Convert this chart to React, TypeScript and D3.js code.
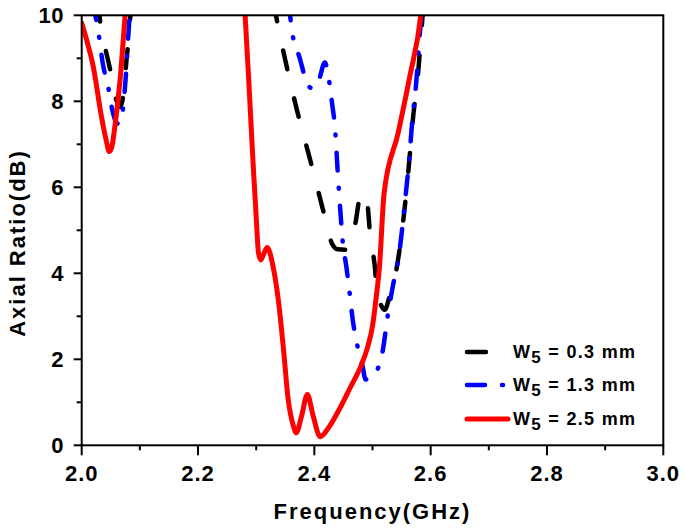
import React from "react";
import * as d3 from "d3";

type P = [number, number];

// W5 = 0.3 mm (black dashed)
const black1: P[] = [[2.029,10.3],[2.031,9.93],[2.04,9.27],[2.049,8.73],[2.057,8.15],[2.066,7.87],[2.072,8.2],[2.077,8.96],[2.082,9.66],[2.085,10.3]];
const black2: P[] = [[2.330,10.3],[2.335,9.93],[2.35,8.96],[2.37,7.8],[2.393,6.63],[2.415,5.47],[2.422,5.1],[2.43,4.7],[2.44,4.56],[2.455,4.55],[2.463,4.75],[2.4716,5.24],[2.477,5.7],[2.484,5.88],[2.49,5.75],[2.496,4.9],[2.504,4.15],[2.508,3.55],[2.515,3.25],[2.521,3.15],[2.53,3.5],[2.54,4.01],[2.553,5.24],[2.562,6.43],[2.569,7.52],[2.579,8.75],[2.585,9.8],[2.588,10.3]];
// W5 = 1.3 mm (blue dash-dot)
const blue1: P[] = [[2.019,10.3],[2.029,9.58],[2.036,8.9],[2.046,8.3],[2.052,7.84],[2.058,7.55],[2.064,7.47],[2.069,7.64],[2.073,8.1],[2.077,8.8],[2.08,9.5],[2.084,10.3]];
const blue2: P[] = [[2.356,10.3],[2.361,9.69],[2.375,9.0],[2.39,8.35],[2.398,8.3],[2.408,8.5],[2.418,8.9],[2.424,8.6],[2.43,8.0],[2.436,7.3],[2.44,6.4],[2.445,5.4],[2.449,4.7],[2.455,4.16],[2.46,3.62],[2.466,2.92],[2.473,2.38],[2.483,1.84],[2.488,1.53],[2.496,1.55],[2.506,1.69],[2.518,2.23],[2.526,3.0],[2.535,3.7],[2.546,4.47],[2.555,5.55],[2.563,6.64],[2.569,7.64],[2.575,8.41],[2.58,9.34],[2.584,10],[2.586,10.3]];
// W5 = 2.5 mm (red solid)
const red1: P[] = [[2.0,9.82],[2.01,9.35],[2.02,8.8],[2.034,7.64],[2.042,7.1],[2.0475,6.83],[2.052,6.95],[2.057,7.41],[2.066,8.5],[2.0745,9.97],[2.077,10.4]];
const red2: P[] = [[2.279,10.4],[2.281,10],[2.289,8.03],[2.295,6.48],[2.3,5.32],[2.304,4.47],[2.308,4.31],[2.313,4.45],[2.319,4.6],[2.329,4.16],[2.338,3.39],[2.347,2.23],[2.355,1.07],[2.364,0.45],[2.369,0.29],[2.378,0.68],[2.388,1.18],[2.398,0.68],[2.41,0.2],[2.425,0.42],[2.443,0.84],[2.462,1.35],[2.48,1.84],[2.492,2.3],[2.5,2.77],[2.506,3.4],[2.512,4.16],[2.52,5.87],[2.544,7.26],[2.564,8.57],[2.583,10],[2.586,10.4]];

const xMajor = [2.0, 2.2, 2.4, 2.6, 2.8, 3.0];
const xMinor = [2.1, 2.3, 2.5, 2.7, 2.9];
const yMajor = [0, 2, 4, 6, 8, 10];
const yMinor = [1, 3, 5, 7, 9];

const legendLabels = ["0.3 mm", "1.3 mm", "2.5 mm"];

const FONT = "'Liberation Sans', Arial, Helvetica, sans-serif";

export default function App() {
  const W = 685, H = 531;
  const L = 81.7, R = 663.3, T = 15.3, B = 445.3;
  const x = d3.scaleLinear().domain([2, 3]).range([L, R]);
  const y = d3.scaleLinear().domain([0, 10]).range([B, T]);
  const line = d3.line<P>().x(d => x(d[0])).y(d => y(d[1])).curve(d3.curveMonotoneX);

  const series = [
    { segs: [black1, black2], color: "#000000", dash: "19,30", w: 4.5 },
    { segs: [blue1, blue2], color: "#0000ff", dash: "18,17,1,17", w: 4.5 },
    { segs: [red1, red2], color: "#ff0000", dash: "", w: 5 },
  ];
  const legendY = [352, 385, 419];

  return (
    <svg width={W} height={H} style={{ position: "absolute", left: 0, top: 0 }} fontFamily={FONT} fontWeight="bold">
      <rect x={0} y={0} width={W} height={H} fill="#fff" />
      <defs>
        <clipPath id="plot">
          <rect x={L} y={T} width={R - L} height={B - T} />
        </clipPath>
      </defs>
      <g clipPath="url(#plot)">
        {series.map((s, i) =>
          s.segs.map((seg, j) => (
            <path key={i + "-" + j} d={line(seg) || ""} fill="none" stroke={s.color} strokeWidth={s.w}
              strokeDasharray={s.dash || undefined} strokeLinecap="round" strokeLinejoin="round" />
          ))
        )}
      </g>
      <rect x={L} y={T} width={R - L} height={B - T} fill="none" stroke="#000" strokeWidth={2} />
      {xMajor.map(v => (
        <g key={"xm" + v}>
          <line x1={x(v)} x2={x(v)} y1={B} y2={B + 10} stroke="#000" strokeWidth={2} />
          <text x={x(v)} y={481} textAnchor="middle" fontSize={22} letterSpacing={1}>{v.toFixed(1)}</text>
        </g>
      ))}
      {xMinor.map(v => (
        <line key={"xn" + v} x1={x(v)} x2={x(v)} y1={B} y2={B + 5} stroke="#000" strokeWidth={2} />
      ))}
      {yMajor.map(v => (
        <g key={"ym" + v}>
          <line x1={L} x2={L - 8} y1={y(v)} y2={y(v)} stroke="#000" strokeWidth={2} />
          <text x={64} y={y(v) + 8} textAnchor="end" fontSize={22} letterSpacing={0.5}>{v}</text>
        </g>
      ))}
      {yMinor.map(v => (
        <line key={"yn" + v} x1={L} x2={L - 5} y1={y(v)} y2={y(v)} stroke="#000" strokeWidth={2} />
      ))}
      <text x={(L + R) / 2} y={519} textAnchor="middle" fontSize={22} letterSpacing={2}>Frequency(GHz)</text>
      <text transform={`translate(25,243) rotate(-90)`} textAnchor="middle" fontSize={22} letterSpacing={2}>Axial Ratio(dB)</text>
      {series.map((s, i) => (
        <g key={"lg" + i}>
          <line x1={467} x2={508} y1={legendY[i]} y2={legendY[i]} stroke={s.color} strokeWidth={s.w}
            strokeDasharray={s.dash || undefined} strokeLinecap="round" />
          <text x={513} y={legendY[i] + 6} fontSize={18} letterSpacing={1.3}>
            W<tspan fontSize={17} dy={5}>5</tspan><tspan dy={-5}> = {legendLabels[i]}</tspan>
          </text>
        </g>
      ))}
    </svg>
  );
}
